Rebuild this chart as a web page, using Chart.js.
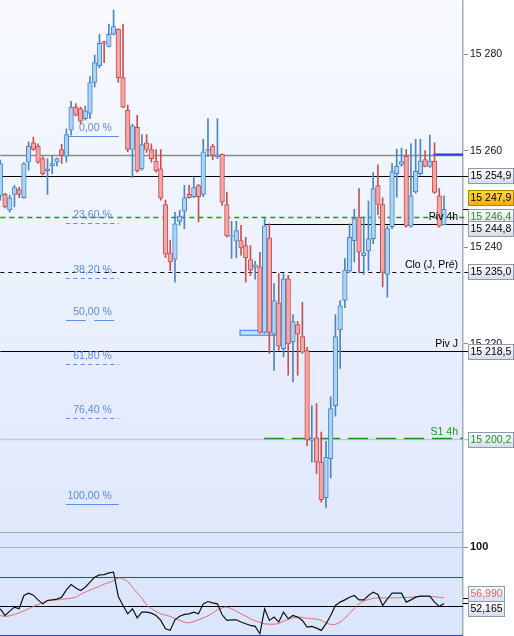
<!DOCTYPE html>
<html>
<head>
<meta charset="utf-8">
<script src="https://cdn.jsdelivr.net/npm/chart.js@4.4.1/dist/chart.umd.min.js"></script>
<style>
  html, body { margin: 0; padding: 0; background: #fff; }
  canvas { display: block; }
</style>
</head>
<body>
<canvas id="chart" width="514" height="636"></canvas>
<script>
// ---- data ----
const candleOpen = [15250.8,15251.0,15247.8,15251.0,15252.0,15250.3,15257.7,15261.7,15261.0,15258.4,
  15255.9,15256.9,15257.7,15260.3,15258.9,15264.3,15269.1,15268.8,15266.7,15267.8,
  15274.2,15277.7,15282.7,15281.7,15284.2,15285.2,15275.2,15268.4,15260.3,15264.9,
  15256.3,15261.7,15260.3,15257.9,15256.3,15248.9,15238.9,15237.5,15245.4,15247.5,
  15251.0,15250.5,15252.8,15251.0,15260.0,15261.0,15258.8,15259.3,15248.9,15242.2,
  15241.3,15241.4,15240.4,15237.5,15235.9,15236.0,15222.4,15242.0,15222.0,15228.5,
  15219.0,15233.5,15220.4,15224.0,15221.5,15218.6,15200.0,15200.5,15195.5,15188.1,
  15196.2,15207.2,15222.9,15229.0,15235.1,15241.4,15246.3,15238.3,15239.3,15241.8,
  15252.8,15248.9,15234.4,15244.3,15255.3,15257.2,15258.9,15244.4,15251.5,15255.3,
  15258.2,15256.8,15257.9,15250.7,15244.7];
const candleHigh = [15258.1,15251.2,15250.8,15252.9,15252.5,15257.6,15261.9,15262.9,15261.5,15258.8,
  15258.4,15258.9,15258.5,15261.4,15264.6,15270.3,15269.8,15269.1,15269.3,15275.4,
  15279.9,15284.2,15282.8,15286.3,15289.2,15285.3,15286.3,15269.5,15265.5,15267.4,
  15263.4,15263.4,15261.5,15260.3,15260.3,15249.8,15241.5,15247.3,15247.7,15252.9,
  15252.9,15254.5,15253.1,15262.4,15266.7,15261.4,15266.7,15259.4,15251.5,15245.4,
  15245.4,15244.6,15242.1,15240.4,15237.1,15239.0,15246.0,15244.9,15232.5,15234.6,
  15234.6,15234.2,15226.1,15224.7,15228.6,15219.3,15207.2,15207.6,15201.7,15199.8,
  15209.0,15226.1,15229.0,15237.7,15244.9,15247.9,15252.2,15246.3,15249.6,15255.5,
  15257.1,15250.3,15244.5,15257.4,15260.4,15260.6,15260.3,15261.5,15262.4,15262.4,
  15260.1,15263.3,15261.7,15252.2,15250.7];
const candleLow = [15249.8,15248.2,15247.3,15248.4,15250.3,15250.2,15256.0,15260.1,15257.4,15255.0,
  15251.0,15255.3,15256.9,15257.4,15257.7,15263.3,15267.2,15265.7,15266.4,15266.7,
  15273.3,15277.2,15278.3,15281.5,15284.0,15274.2,15268.9,15259.8,15254.5,15255.6,
  15256.0,15259.7,15257.7,15255.6,15249.8,15237.9,15235.2,15232.8,15244.6,15243.9,
  15250.2,15250.3,15245.3,15250.5,15258.8,15258.2,15258.4,15248.7,15242.1,15237.7,
  15237.8,15238.4,15232.8,15234.2,15233.4,15222.2,15222.2,15218.0,15214.5,15218.7,
  15217.3,15213.5,15212.1,15213.5,15218.0,15198.9,15195.5,15193.1,15187.2,15186.1,
  15192.2,15205.0,15214.9,15227.5,15234.8,15237.0,15234.7,15234.4,15235.2,15240.8,
  15246.8,15231.8,15229.7,15243.9,15250.4,15256.8,15244.2,15244.2,15251.2,15255.0,
  15256.7,15256.6,15251.2,15244.2,15244.6];
const candleClose = [15257.4,15248.4,15250.3,15252.4,15251.0,15257.4,15261.0,15260.3,15257.7,15255.3,
  15256.3,15257.4,15258.4,15259.1,15263.4,15269.1,15267.4,15266.2,15268.3,15274.2,
  15278.3,15282.3,15282.3,15284.2,15285.8,15275.2,15269.1,15260.3,15265.2,15255.9,
  15261.3,15260.3,15258.4,15255.9,15250.2,15238.6,15237.0,15244.9,15246.5,15250.3,
  15250.3,15252.4,15250.5,15259.8,15260.3,15259.1,15259.1,15249.4,15242.4,15242.4,
  15243.5,15239.9,15237.8,15235.3,15236.4,15222.4,15244.5,15222.4,15229.0,15219.5,
  15233.5,15220.0,15224.6,15222.0,15218.3,15200.1,15200.3,15195.5,15187.7,15196.5,
  15206.6,15221.5,15227.9,15235.3,15242.1,15246.0,15239.0,15238.9,15241.8,15252.2,
  15248.9,15234.8,15243.9,15255.7,15256.8,15257.8,15244.4,15250.7,15255.8,15257.9,
  15256.8,15257.9,15251.4,15244.4,15247.9];

// oscillator (black) and its signal (red)
const oscMain = [47.6,41.9,45.6,49.0,47.6,58.9,60.9,59.2,55.2,51.8,
  54.7,55.2,55.8,57.5,63.7,68.3,65.4,63.2,66.0,70.3,
  74.5,76.5,76.8,78.2,78.8,58.1,50.4,43.3,47.6,39.9,
  44.8,44.8,43.9,41.9,37.7,30.6,29.2,38.2,41.3,42.8,
  43.3,44.8,43.3,51.8,53.8,52.7,51.8,42.5,37.7,38.2,
  38.2,36.3,34.8,33.4,32.6,26.3,47.6,37.7,40.5,36.3,
  44.8,39.1,41.9,40.5,37.7,32.0,32.6,31.1,29.2,34.8,
  41.9,50.4,53.3,55.2,57.5,58.9,55.2,55.2,58.9,61.8,
  59.8,50.4,56.1,60.9,60.9,60.9,53.3,55.2,57.5,58.4,
  58.4,58.4,53.3,49.6,52.165];
const oscSignal = [41.9,41.1,41.6,42.8,44.2,45.9,47.6,49.6,51.3,53.0,
  54.7,55.0,55.2,55.8,56.1,56.7,57.5,59.8,61.8,63.5,
  65.2,66.6,68.6,70.0,71.7,73.7,73.1,70.6,66.0,61.2,
  56.7,51.0,47.9,45.3,43.3,42.2,41.1,39.4,37.7,36.3,
  35.7,36.8,38.2,39.9,41.6,43.9,46.7,48.4,49.0,47.6,
  45.6,43.3,41.3,39.1,37.4,36.0,34.8,34.5,34.5,35.1,
  37.1,38.5,39.9,40.5,40.2,39.6,39.1,38.8,37.7,35.7,
  34.3,34.3,36.3,39.6,43.9,47.6,51.8,54.1,55.5,56.4,
  56.9,56.9,56.9,56.9,56.9,57.2,57.2,57.5,57.8,58.1,
  58.1,58.1,57.8,57.4,56.990];

const priceTicks = [15220, 15240, 15260, 15280];
const oscTicks = [100];
const oscLevels = [100, 75, 50, 25];

const levelValues = [15259.1, 15254.9, 15246.4, 15244.8, 15235.0, 15218.5, 15200.2];
const levelNames = ['', '', 'Piv 4h', '', 'Clo (J, Pré)', 'Piv J', 'S1 4h'];
const levelFrom = [0, 0, 0, 55.9, 0, 0, 0];
const highMark = 15259.3, highMarkFrom = 91.7;
const lastPrice = 15247.9;

const fibLabels = ['0,00 %', '23,60 %', '38,20 %', '50,00 %', '61,80 %', '76,40 %', '100,00 %'];
const fibValues = [15263.05, 15245.0, 15233.7, 15224.9, 15215.8, 15204.7, 15186.7];
const fibSpan = [13.9, 25.1];

const zoneSpan = [50.8, 60.0];
const zonePrices = [15221.8, 15222.8];

// ---- styles ----
const BLUE_FILL = '#a8d4f7', BLUE_EDGE = '#4a86c6';
const RED_FILL = '#f6a5a5', RED_EDGE = '#c9504f';
const FONT = '"Liberation Sans", Arial, sans-serif';
const GREEN = '#1d961d';

const levelStyles = [
  {color: '#8a8a8a', width: 1.3, dash: [], box: null},
  {color: '#000', width: 1, dash: [], box: 'plain'},
  {color: GREEN, width: 1.3, dash: [5, 4], box: 'green', dy: 0},
  {color: '#000', width: 1, dash: [], box: 'plain', boxShift: 4},
  {color: '#000', width: 1, dash: [4, 4], box: 'plain', dy: -6.5},
  {color: '#000', width: 1, dash: [], box: 'plain', dy: -7.5},
  {color: '#c3c9d4', width: 1.3, dash: [], box: 'green', dy: -8, overlay: {color: GREEN, width: 1.5, dash: [20, 8], from: 55.9}}
];
const fibDash = [[], [4, 3.4], [4, 3.4], [20, 8.3], [4, 3.4], [4, 3.4], []];

function fmt(v, d) {
  const parts = v.toFixed(d).split('.');
  return parts[0].replace(/\B(?=(\d{3})+(?!\d))/g, ' ') + (parts[1] ? ',' + parts[1] : '');
}

const idx = candleOpen.map((_, i) => i);
const up = idx.map(i => candleClose[i] >= candleOpen[i]);

function hline(ctx, x1, x2, yy, st) {
  ctx.save();
  ctx.strokeStyle = st.color;
  ctx.lineWidth = st.width || 1;
  ctx.setLineDash(st.dash || []);
  const yp = Math.round(yy) + 0.5;
  ctx.beginPath();
  ctx.moveTo(x1, yp);
  ctx.lineTo(x2, yp);
  ctx.stroke();
  ctx.restore();
}

function valueBox(ctx, x, yc, text, o) {
  ctx.save();
  ctx.font = '10.5px ' + FONT;
  const w = Math.round(ctx.measureText(text).width + 4), h = 15;
  const top = Math.round(yc - h / 2) + 0.5;
  const g = ctx.createLinearGradient(0, top, 0, top + h);
  g.addColorStop(0, o.fill0);
  g.addColorStop(1, o.fill1);
  ctx.fillStyle = g;
  ctx.fillRect(x + 0.5, top, w, h);
  ctx.strokeStyle = o.border;
  ctx.lineWidth = 1;
  ctx.strokeRect(x + 0.5, top, w, h);
  ctx.fillStyle = o.text;
  ctx.textAlign = 'left';
  ctx.textBaseline = 'middle';
  ctx.fillText(text, x + 2.5, top + h / 2 + 0.5);
  ctx.restore();
}

const BOX_PLAIN = {fill0: '#ffffff', fill1: '#d4dcea', border: '#8d9bb0', text: '#000'};
const BOX_GREEN = {fill0: '#ffffff', fill1: '#d4dcea', border: '#8d9bb0', text: GREEN};
const BOX_LAST = {fill0: '#ffd94a', fill1: '#f2ae00', border: '#b58400', text: '#000'};
const BOX_RED = {fill0: '#ffffff', fill1: '#d4dcea', border: '#8d9bb0', text: '#e06666'};
const BOX_X = 468;

const overlay = {
  id: 'overlay',
  beforeDraw(chart) {
    const {ctx, chartArea: a, scales: {y, osc}} = chart;
    ctx.save();
    const g = ctx.createLinearGradient(0, y.top, 0, y.bottom);
    g.addColorStop(0, '#f8faff');
    g.addColorStop(1, '#e0e8fc');
    ctx.fillStyle = g;
    ctx.fillRect(a.left, y.top, a.right - a.left, y.bottom - y.top);
    ctx.fillStyle = '#dbe5fb';
    ctx.fillRect(a.left, osc.top, a.right - a.left, osc.bottom - osc.top);
    ctx.restore();
  },
  beforeDatasetsDraw(chart) {
    const {ctx, chartArea: a, scales: {x, y, osc}} = chart;
    // price levels
    levelValues.forEach((v, i) => {
      const st = levelStyles[i];
      const x1 = x.getPixelForValue(levelFrom[i]);
      const x2 = st.box ? BOX_X : a.right;
      hline(ctx, Math.max(a.left, x1), x2, y.getPixelForValue(v), st);
      if (st.overlay) {
        hline(ctx, x.getPixelForValue(st.overlay.from), a.right, y.getPixelForValue(v) - 1, st.overlay);
      }
    });
    hline(ctx, x.getPixelForValue(highMarkFrom), a.right, y.getPixelForValue(highMark), {color: '#1f3fe0', width: 2});
    // fibonacci retracement
    ctx.save();
    ctx.font = '10.5px ' + FONT;
    ctx.fillStyle = '#5a8de6';
    ctx.textAlign = 'right';
    ctx.textBaseline = 'middle';
    const fx1 = x.getPixelForValue(fibSpan[0]), fx2 = x.getPixelForValue(fibSpan[1]);
    fibValues.forEach((v, i) => {
      const yy = y.getPixelForValue(v);
      hline(ctx, fx1, fx2, yy, {color: '#5b8ff0', width: 1.2, dash: fibDash[i]});
      ctx.fillText(fibLabels[i], fx2 - 7, yy - 8);
    });
    ctx.restore();
    // zone rectangle
    const zx1 = x.getPixelForValue(zoneSpan[0]), zx2 = x.getPixelForValue(zoneSpan[1]);
    const zy1 = y.getPixelForValue(zonePrices[1]), zy2 = y.getPixelForValue(zonePrices[0]);
    ctx.save();
    ctx.fillStyle = '#c9dcfa';
    ctx.fillRect(zx1, zy1, zx2 - zx1, zy2 - zy1);
    ctx.strokeStyle = '#5b8ff0';
    ctx.lineWidth = 1.3;
    ctx.strokeRect(zx1, zy1, zx2 - zx1, zy2 - zy1);
    ctx.restore();
    // oscillator panel levels
    const oscColors = ['#a9b3c3', '#2a3fd6', '#000', '#2a3fd6'];
    hline(ctx, a.left, a.right, osc.top, {color: '#98a3b3', width: 1.2});
    oscLevels.forEach((v, i) => hline(ctx, a.left, a.right, osc.getPixelForValue(v), {color: oscColors[i], width: 1}));
  },
  afterDatasetsDraw(chart) {
    const {ctx, chartArea: a, scales: {y}} = chart;
    ctx.save();
    ctx.font = '10.5px ' + FONT;
    ctx.textAlign = 'right';
    ctx.textBaseline = 'middle';
    levelValues.forEach((v, i) => {
      if (!levelNames[i]) return;
      const st = levelStyles[i];
      ctx.fillStyle = st.box === 'green' && st.dy ? GREEN : '#000';
      ctx.fillText(levelNames[i], a.right - 5, y.getPixelForValue(v) + (st.dy || 0) + 0.5);
    });
    ctx.restore();
  },
  afterDraw(chart) {
    const {ctx, chartArea: a, scales: {y, osc}} = chart;
    // ticks at box levels
    const tick = (yy) => hline(ctx, a.right, BOX_X, yy, {color: '#000', width: 1});
    tick(y.getPixelForValue(lastPrice));
    levelValues.forEach((v, i) => {
      const st = levelStyles[i];
      if (!st.box) return;
      valueBox(ctx, BOX_X, y.getPixelForValue(v) + (st.boxShift || 0), fmt(v, 1), st.box === 'green' ? BOX_GREEN : BOX_PLAIN);
    });
    valueBox(ctx, BOX_X, y.getPixelForValue(lastPrice) - 11.7, fmt(lastPrice, 1), BOX_LAST);
    // redraw the 244,8 box on top of the green one
    valueBox(ctx, BOX_X, y.getPixelForValue(levelValues[3]) + 4, fmt(levelValues[3], 1), BOX_PLAIN);
    const lastMain = oscMain[oscMain.length - 1], lastSig = oscSignal[oscSignal.length - 1];
    tick(osc.getPixelForValue(lastSig));
    tick(osc.getPixelForValue(lastMain));
    valueBox(ctx, BOX_X, osc.getPixelForValue(lastSig) - 4.7, fmt(lastSig, 3), BOX_RED);
    valueBox(ctx, BOX_X, osc.getPixelForValue(lastMain) + 4.6, fmt(lastMain, 3), BOX_PLAIN);
  }
};

const noPad = s => { s.width = 51; s.paddingTop = 0; s.paddingBottom = 0; };

new Chart(document.getElementById('chart'), {
  type: 'bar',
  data: {
    datasets: [
      {
        type: 'bar', label: 'wicks', yAxisID: 'y', order: 3,
        data: idx.map(i => ({x: i, y: [candleLow[i], candleHigh[i]]})),
        backgroundColor: up.map(u => u ? BLUE_EDGE : RED_EDGE),
        barThickness: 1, grouped: false, borderWidth: 0
      },
      {
        type: 'bar', label: 'bodies', yAxisID: 'y', order: 2,
        data: idx.map(i => ({x: i, y: [candleOpen[i], candleClose[i]]})),
        backgroundColor: up.map(u => u ? BLUE_FILL : RED_FILL),
        borderColor: up.map(u => u ? BLUE_EDGE : RED_EDGE),
        borderWidth: 1, borderSkipped: false, barThickness: 4.6, grouped: false
      },
      {
        type: 'line', label: 'signal', yAxisID: 'osc', order: 1,
        data: idx.map(i => ({x: i, y: oscSignal[i]})),
        borderColor: '#e46c6c', borderWidth: 1, pointRadius: 0, tension: 0.4
      },
      {
        type: 'line', label: 'osc', yAxisID: 'osc', order: 0,
        data: idx.map(i => ({x: i, y: oscMain[i]})),
        borderColor: '#111', borderWidth: 1.2, pointRadius: 0, tension: 0
      }
    ]
  },
  options: {
    responsive: false,
    animation: false,
    devicePixelRatio: 1,
    events: [],
    layout: {padding: 0},
    plugins: {legend: {display: false}, tooltip: {enabled: false}, title: {display: false}},
    scales: {
      x: {type: 'linear', display: false, offset: false, min: -0.0636, max: 98.03},
      y: {
        type: 'linear', position: 'right', stack: 'panels', stackWeight: 531.5,
        min: 15181.1, max: 15291.3,
        afterBuildTicks: s => { s.ticks = priceTicks.map(v => ({value: v})); },
        afterFit: noPad,
        grid: {drawOnChartArea: false, tickLength: 5, color: '#8c8c8c'},
        border: {color: '#a3adbb', width: 1.5},
        ticks: {color: '#111', autoSkip: false, padding: 2, font: {family: FONT, size: 10.5}, callback: v => fmt(v, 0)}
      },
      osc: {
        type: 'linear', position: 'right', stack: 'panels', stackWeight: 104.5,
        min: 24.4, max: 113.5,
        afterBuildTicks: s => { s.ticks = oscTicks.map(v => ({value: v})); },
        afterFit: noPad,
        grid: {drawOnChartArea: false, tickLength: 5, color: '#8c8c8c'},
        border: {color: '#a3adbb', width: 1.5},
        ticks: {color: '#111', autoSkip: false, padding: 2, font: {family: FONT, size: 11, weight: 'bold'}, callback: v => fmt(v, 0)}
      }
    }
  },
  plugins: [overlay]
});
</script>
</body>
</html>
